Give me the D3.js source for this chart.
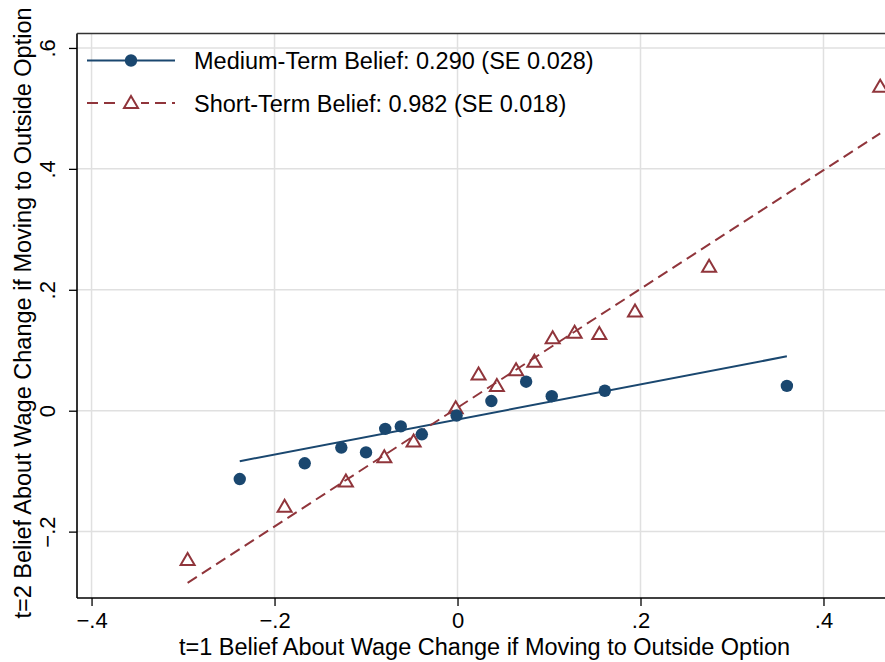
<!DOCTYPE html>
<html>
<head>
<meta charset="utf-8">
<script src="https://cdn.jsdelivr.net/npm/d3@7"></script>
<style>
  body { margin: 0; background: #fff; }
  svg { font-family: Arial, "Liberation Sans", sans-serif; }
</style>
</head>
<body>
<svg id="chart" width="885" height="662"></svg>
<script>
// binned means, medium-term belief (t=1 belief on x, t=2 belief on y)
const medX = [-0.238, -0.167, -0.127, -0.100, -0.079, -0.062, -0.039, -0.001, 0.037, 0.075, 0.103, 0.161, 0.360]
const medY = [-0.113, -0.087, -0.061, -0.069, -0.030, -0.026, -0.039, -0.008, 0.016, 0.048, 0.024, 0.033, 0.041]
// binned means, short-term belief
const shortX = [-0.295, -0.189, -0.122, -0.080, -0.048, -0.002, 0.023, 0.043, 0.064, 0.084, 0.104, 0.128, 0.155, 0.194, 0.275, 0.462]
const shortY = [-0.247, -0.159, -0.117, -0.077, -0.051, 0.004, 0.060, 0.041, 0.067, 0.081, 0.120, 0.129, 0.127, 0.164, 0.238, 0.536]
// fitted lines
const medFit = {slope: 0.290, intercept: -0.0145}
const shortFit = {slope: 0.982, intercept: 0.005}

const xTicks = [-0.4, -0.2, 0, 0.2, 0.4]
const yTicks = [-0.2, 0, 0.2, 0.4, 0.6]
const legendLabels = ["Medium-Term Belief: 0.290 (SE 0.028)", "Short-Term Belief: 0.982 (SE 0.018)"]
const xTitle = "t=1 Belief About Wage Change if Moving to Outside Option"
const yTitle = "t=2 Belief About Wage Change if Moving to Outside Option"

const blue = "#1a476f"
const red = "#90353b"

const pLeft = 77, pTop = 33.5, pRight = 890, pBottom = 598

const x = d3.scaleLinear().domain([-0.4159, 0.4727]).range([pLeft, pRight])
const y = d3.scaleLinear().domain([-0.3098, 0.6239]).range([pBottom, pTop])

const fmt = v => v === 0 ? "0" : d3.format(".1f")(v).replace("0.", ".")

const svg = d3.select("#chart")

// grid
svg.append("g")
    .selectAll("line")
    .data(xTicks)
    .join("line")
    .attr("x1", d => x(d)).attr("x2", d => x(d))
    .attr("y1", pTop).attr("y2", pBottom)
    .attr("stroke", "#e0e0e0").attr("stroke-width", 1.5)
svg.append("g")
    .selectAll("line")
    .data(yTicks)
    .join("line")
    .attr("x1", pLeft).attr("x2", pRight)
    .attr("y1", d => y(d)).attr("y2", d => y(d))
    .attr("stroke", "#e0e0e0").attr("stroke-width", 1.5)

// x axis
const xAxis = svg.append("g")
    .attr("transform", `translate(0,${pBottom})`)
    .call(d3.axisBottom(x).tickValues(xTicks).tickFormat(fmt).tickSize(8).tickPadding(6))
xAxis.select(".domain").remove()
xAxis.selectAll("line").attr("stroke", "#000").attr("stroke-width", 1.3)
xAxis.selectAll("text").attr("font-size", 22).attr("fill", "#000").attr("font-family", "Arial, 'Liberation Sans', sans-serif")

// y axis
const yAxis = svg.append("g")
    .attr("transform", `translate(${pLeft},0)`)
    .call(d3.axisLeft(y).tickValues(yTicks).tickFormat(fmt).tickSize(8))
yAxis.select(".domain").remove()
yAxis.selectAll("line").attr("stroke", "#000").attr("stroke-width", 1.3)
yAxis.selectAll("text")
    .attr("x", null).attr("dy", null)
    .attr("text-anchor", "middle")
    .attr("transform", "translate(-22,0) rotate(-90)")
    .attr("font-size", 22).attr("fill", "#000").attr("font-family", "Arial, 'Liberation Sans', sans-serif")

// frame lines
svg.append("line").attr("x1", pLeft).attr("x2", pRight).attr("y1", pBottom).attr("y2", pBottom)
    .attr("stroke", "#000").attr("stroke-width", 1.6)
svg.append("line").attr("x1", pLeft).attr("x2", pLeft).attr("y1", pTop).attr("y2", pBottom)
    .attr("stroke", "#000").attr("stroke-width", 1.6)
svg.append("line").attr("x1", pLeft).attr("x2", pRight).attr("y1", pTop).attr("y2", pTop)
    .attr("stroke", "#333").attr("stroke-width", 1.4)

// fit lines
const fitLine = (xs, fit) => {
    const lo = d3.min(xs), hi = d3.max(xs)
    return [[lo, fit.slope * lo + fit.intercept], [hi, fit.slope * hi + fit.intercept]]
}
const line = d3.line().x(d => x(d[0])).y(d => y(d[1]))

svg.append("path")
    .attr("d", line(fitLine(medX, medFit)))
    .attr("stroke", blue).attr("stroke-width", 2).attr("fill", "none")
svg.append("path")
    .attr("d", line(fitLine(shortX, shortFit)))
    .attr("stroke", red).attr("stroke-width", 2).attr("fill", "none")
    .attr("stroke-dasharray", "11,6")

// markers
const tri = "M0,-7L7,5L-7,5Z"
svg.append("g")
    .selectAll("path")
    .data(d3.zip(shortX, shortY))
    .join("path")
    .attr("d", tri)
    .attr("transform", d => `translate(${x(d[0])},${y(d[1])})`)
    .attr("fill", "none").attr("stroke", red).attr("stroke-width", 2)

svg.append("g")
    .selectAll("circle")
    .data(d3.zip(medX, medY))
    .join("circle")
    .attr("cx", d => x(d[0])).attr("cy", d => y(d[1]))
    .attr("r", 6.2).attr("fill", blue)

// legend
const leg = svg.append("g")
const rows = [{y: 60.5, color: blue, dash: null, marker: "circle"}, {y: 103, color: red, dash: "11,6", marker: "tri"}]
rows.forEach((r, i) => {
    leg.append("line").attr("x1", 87).attr("x2", 175).attr("y1", r.y).attr("y2", r.y)
        .attr("stroke", r.color).attr("stroke-width", 2).attr("stroke-dasharray", r.dash)
    if (r.marker === "circle") {
        leg.append("circle").attr("cx", 131).attr("cy", r.y).attr("r", 6.2).attr("fill", r.color)
    } else {
        leg.append("rect").attr("x", 121).attr("y", r.y - 9).attr("width", 20).attr("height", 16).attr("fill", "#fff")
        leg.append("path").attr("d", tri).attr("transform", `translate(131,${r.y})`)
            .attr("fill", "#fff").attr("stroke", r.color).attr("stroke-width", 2)
    }
    leg.append("text").attr("x", 194).attr("y", r.y + 8.5)
        .attr("font-size", 23.5).attr("fill", "#000")
        .text(legendLabels[i])
})

// axis titles
svg.append("text")
    .attr("x", 484.5).attr("y", 655)
    .attr("text-anchor", "middle").attr("font-size", 23.5)
    .text(xTitle)
svg.append("text")
    .attr("transform", `translate(31,313) rotate(-90)`)
    .attr("text-anchor", "middle").attr("font-size", 23.5)
    .text(yTitle)
</script>
</body>
</html>
